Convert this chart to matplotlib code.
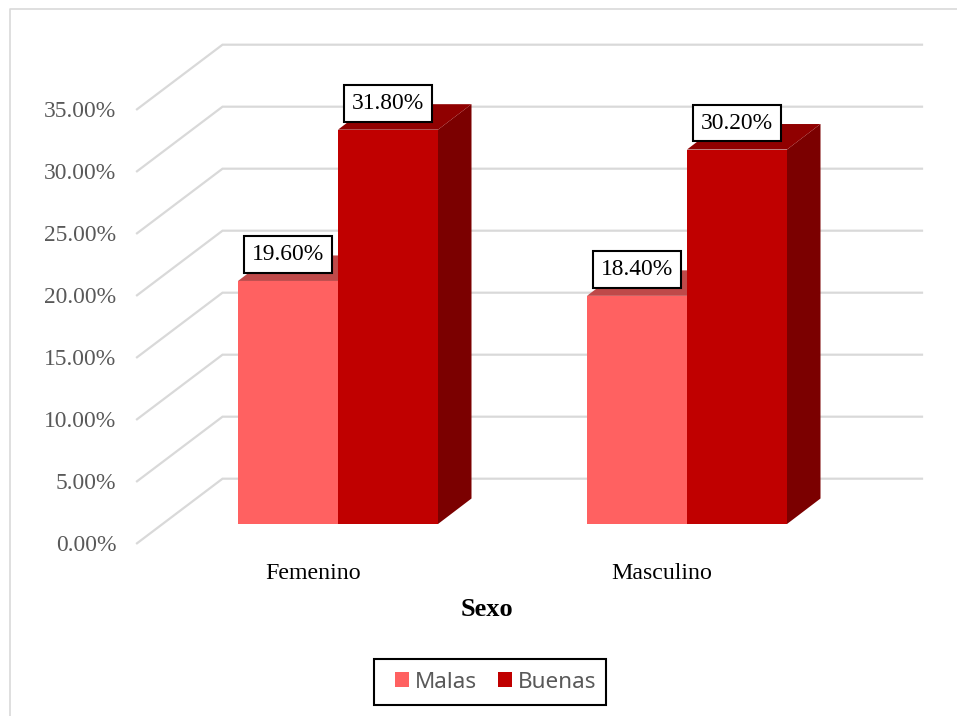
import matplotlib
matplotlib.use("Agg")
import matplotlib.pyplot as plt
from matplotlib.lines import Line2D
from matplotlib.patches import Patch, Polygon, Rectangle

categories = ["Femenino", "Masculino"]
series_names = ["Malas", "Buenas"]
malas = [19.6, 18.4]
buenas = [31.8, 30.2]
y_ticks = [0, 5, 10, 15, 20, 25, 30, 35]

COL_MALAS = "#FF6161"
COL_BUENAS = "#C00000"
TOP_MALAS = "#BF4949"
TOP_BUENAS = "#900000"
SIDE_MALAS = "#BF4949"
SIDE_BUENAS = "#7B0000"
GRID = "#D9D9D9"

W, H = 957, 716
fig = plt.figure(figsize=(W / 100, H / 100), dpi=100, facecolor="white")

# pixel geometry of the pseudo-3D plot
PX_L, PX_R, PX_BOT, PX_TOP = 137.0, 922.0, 543.3, 44.0
PX_PER_PCT = 12.4
PX_PER_CAT = 349.0
PX_CAT0 = 338.0

ax = fig.add_axes([PX_L / W, 1 - PX_BOT / H, (PX_R - PX_L) / W, (PX_BOT - PX_TOP) / H])
ax.set_xlim((PX_L - PX_CAT0) / PX_PER_CAT, (PX_R - PX_CAT0) / PX_PER_CAT)
ax.set_ylim(0, (PX_BOT - PX_TOP) / PX_PER_PCT)
ax.patch.set_visible(False)
for s in ax.spines.values():
    s.set_visible(False)

wall_dx = 85.5 / PX_PER_CAT
wall_dy = 64.6 / PX_PER_PCT
xl = ax.get_xlim()
for v in y_ticks:
    ax.plot([xl[0], xl[0] + wall_dx, xl[1]], [v, v + wall_dy, v + wall_dy],
            color=GRID, lw=1.6, clip_on=False, zorder=1, solid_joinstyle="miter")

bar_w = 100.0 / PX_PER_CAT
floor = 19.3 / PX_PER_PCT
dx = 33.5 / PX_PER_CAT
dy = 25.5 / PX_PER_PCT


def draw_bar(xc, v, front, top, side, z):
    x0, x1 = xc - bar_w / 2, xc + bar_w / 2
    y1 = floor + v
    ax.add_patch(Polygon([(x1, floor), (x1 + dx, floor + dy), (x1 + dx, y1 + dy), (x1, y1)],
                         fc=side, ec="none", zorder=z))
    ax.add_patch(Polygon([(x0, y1), (x0 + dx, y1 + dy), (x1 + dx, y1 + dy), (x1, y1)],
                         fc=top, ec="none", zorder=z))
    ax.bar([xc], [v], width=bar_w, bottom=floor, color=front, linewidth=0, zorder=z + 0.1)


for i, (m, b) in enumerate(zip(malas, buenas)):
    draw_bar(i - bar_w / 2, m, COL_MALAS, TOP_MALAS, SIDE_MALAS, 2)
    draw_bar(i + bar_w / 2, b, COL_BUENAS, TOP_BUENAS, SIDE_BUENAS, 3)
    for xc, v in ((i - bar_w / 2, m), (i + bar_w / 2, b)):
        ax.text(xc, floor + v + 26.3 / PX_PER_PCT, f"{v:.2f}%",
                ha="center", va="center", family="Liberation Serif", fontsize=16.9,
                color="black", zorder=6,
                bbox=dict(boxstyle="square,pad=0.33", fc="white", ec="black", lw=1.5))

ax.set_yticks(y_ticks)
ax.set_yticklabels([f"{v:.2f}%" for v in y_ticks], family="Liberation Serif",
                   fontsize=16.9, color="#595959")
label_shift = -25.0 / PX_PER_CAT
ax.set_xticks([i + label_shift for i in range(len(categories))])
ax.set_xticklabels(categories, family="Liberation Serif", fontsize=17.2, color="black")
ax.tick_params(axis="y", length=0, pad=15)
ax.tick_params(axis="x", length=0, pad=14)

ax.set_xlabel("Sexo", family="Liberation Serif", fontsize=19, fontweight="bold", color="black")
ax.xaxis.set_label_coords((486.5 - PX_L) / (PX_R - PX_L), -(609 - PX_BOT) / (PX_BOT - PX_TOP))
ax.xaxis.label.set_verticalalignment("center")

# legend frame and entries
fig.add_artist(Rectangle((373.5 / W, 1 - 705 / H), 232.5 / W, 46 / H, transform=fig.transFigure,
                         fc="white", ec="black", lw=1.5, zorder=5))
handles = [Patch(fc=COL_MALAS, ec="none"), Patch(fc=COL_BUENAS, ec="none")]
leg = ax.legend(handles, series_names, loc="center left",
                bbox_to_anchor=(395 / W, 1 - 682 / H), bbox_transform=fig.transFigure,
                ncol=2, frameon=False,
                prop={"family": "Noto Sans", "size": 16.2}, labelcolor="#595959",
                handlelength=0.62, handleheight=0.62, handletextpad=0.27,
                columnspacing=0.92, borderpad=0, borderaxespad=0)
leg.set_zorder(10)
leg.remove()
fig.add_artist(leg)
leg.set_zorder(10)

# chart-area border (left and top edges are visible in the crop)
fig.add_artist(Line2D([10 / W, 10 / W, 1], [0, 1 - 8.5 / H, 1 - 8.5 / H], color=GRID, lw=1.2))

fig.savefig("out.png", dpi=100, facecolor="white")
